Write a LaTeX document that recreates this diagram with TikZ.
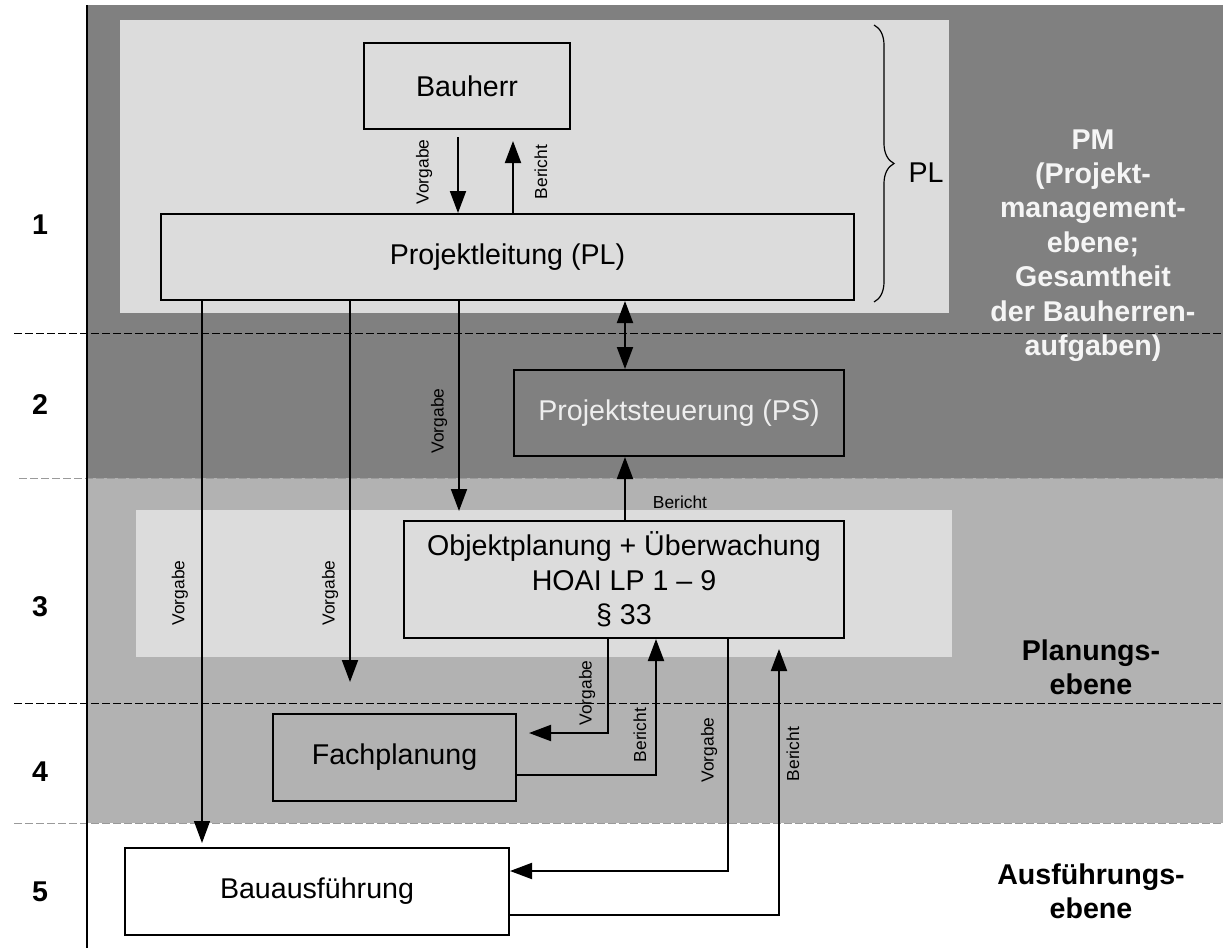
\documentclass[tikz,border=0pt]{standalone}
\usepackage{fontspec}
\setmainfont{Liberation Sans}
\usetikzlibrary{arrows.meta,decorations.pathreplacing}
\definecolor{darkbg}{HTML}{808080}
\definecolor{midbg}{HTML}{B2B2B2}
\definecolor{panelbg}{HTML}{DCDCDC}
\definecolor{dashgray}{HTML}{9A9A9A}
\definecolor{pstext}{HTML}{EEEEEE}
\newcommand{\mainsz}{\fontsize{14.3}{17.2}\selectfont}
\newcommand{\smallsz}{\fontsize{8.7}{10}\selectfont}
\begin{document}
\begin{tikzpicture}[x=0.5pt,y=-0.5pt,
  box/.style={draw=black,line width=1pt,inner sep=0pt,align=center,font=\mainsz},
  arr/.style={line width=1pt,-{Triangle[length=11pt,width=8pt]}},
  dblarr/.style={line width=1pt,{Triangle[length=11pt,width=8pt]}-{Triangle[length=11pt,width=8pt]}},
  lbl/.style={font=\smallsz,inner sep=0pt},
  vlbl/.style={lbl,rotate=90},
  num/.style={font=\mainsz\bfseries,inner sep=0pt},
  blackdash/.style={line width=0.5pt,dash pattern=on 4pt off 1.5pt},
  graydash/.style={line width=0.5pt,draw=dashgray,dash pattern=on 4pt off 1.5pt},
  sidelbl/.style={font=\mainsz\bfseries,align=center,inner sep=0pt}]
\useasboundingbox (0,0) rectangle (1223,948);
% backgrounds
\fill[white] (0,0) rectangle (1223,948);
\fill[darkbg] (87,5) rectangle (1223,478);
\fill[midbg] (87,478) rectangle (1223,823);
\fill[panelbg] (120,20) rectangle (949,313);
\fill[panelbg] (136,510) rectangle (952,657);
% dashed level lines
\draw[blackdash] (14,333) -- (1223,333);
\draw[graydash] (19,478) -- (1223,478);
\draw[blackdash] (14,703) -- (1223,703);
\draw[graydash] (14,823) -- (1223,823);
% left border
\draw[line width=0.7pt] (87,5) -- (87,948);
% level numbers
\node[num] (n1) at (40,225) {1};
\node[num] (n2) at (40,405) {2};
\node[num] (n3) at (40,607) {3};
\node[num] (n4) at (40,772) {4};
\node[num] (n5) at (40,892) {5};
% boxes
\node[box,minimum width=103pt,minimum height=43pt] (Bauherr) at (467,86) {Bauherr};
\node[box,minimum width=346.5pt,minimum height=43pt] (PL) at (507.5,257) {Projektleitung (PL)};
\node[box,minimum width=165pt,minimum height=43pt,text=pstext] (PS) at (679,413) {Projektsteuerung (PS)};
\node[box,minimum width=220pt,minimum height=58.5pt] (Obj) at (624,579.5) {Objektplanung + Überwachung\\HOAI LP 1 – 9\\§ 33};
\node[box,minimum width=121.5pt,minimum height=43.5pt] (Fach) at (394.5,757.5) {Fachplanung};
\node[box,fill=white,minimum width=192pt,minimum height=43.5pt] (Baua) at (317,891.5) {Bauausführung};
% brace
\coordinate (bt) at (874,25);
\coordinate (bb) at (874,302);
\draw[line width=0.6pt,decorate,decoration={brace,amplitude=10pt}] (bt) -- (bb);
\node[font=\mainsz,inner sep=0pt] (plLbl) at (926,173) {PL};
% side labels
\node[sidelbl,text=white!96!black] (pm) at (1093,245.5) {PM\\(Projekt-\\management-\\ebene;\\Gesamtheit\\der Bauherren-\\aufgaben)};
\node[sidelbl] (plan) at (1091,667) {Planungs-\\ebene};
\node[sidelbl] (ausf) at (1091,891) {Ausführungs-\\ebene};
% helper columns / rows
\coordinate (k202) at (202,0);
\coordinate (k350) at (350,0);
\coordinate (k458) at (458,0);
\coordinate (k459) at (459,0);
\coordinate (k513) at (513,0);
\coordinate (k608) at (608,0);
\coordinate (k625) at (625,0);
\coordinate (k656) at (656,0);
\coordinate (k728) at (728,0);
\coordinate (k779) at (779,0);
\coordinate (r733) at (0,733);
\coordinate (r775) at (0,775);
\coordinate (r871) at (0,871);
\coordinate (r915) at (0,915);
\coordinate (e350) at (350,682);
% connectors
\draw[arr,shorten <=3.5pt] (Bauherr.south -| k458) -- (PL.north -| k458);
\draw[arr,shorten >=5.5pt] (PL.north -| k513) -- (Bauherr.south -| k513);
\draw[dblarr] (PL.south -| k625) -- (PS.north -| k625);
\draw[arr,shorten >=4.5pt] (PL.south -| k459) -- (Obj.north -| k459);
\draw[arr] (Obj.north -| k625) -- (PS.south -| k625);
\draw[arr] (PL.south -| k350) -- (e350);
\draw[arr,line width=0.6pt,shorten >=2pt] (PL.south -| k202) -- (Baua.north -| k202);
\draw[arr,shorten >=6pt] (Obj.south -| k608) |- (Fach.east |- r733);
\draw[arr] (Fach.east |- r775) -| (Obj.south -| k656);
\draw[arr] (Obj.south -| k728) |- (Baua.east |- r871);
\draw[arr,shorten >=5pt] (Baua.east |- r915) -| (Obj.south -| k779);
% connector labels
\node[vlbl] (lV1) at (424,172) {Vorgabe};
\node[vlbl] (lB1) at (541,172) {Bericht};
\node[vlbl] (lV2) at (439,421) {Vorgabe};
\node[lbl] (lB2) at (680,502) {Bericht};
\node[vlbl] (lV3) at (330,593) {Vorgabe};
\node[vlbl] (lV4) at (180,593) {Vorgabe};
\node[vlbl] (lV5) at (587,693) {Vorgabe};
\node[vlbl] (lB3) at (640,735) {Bericht};
\node[vlbl] (lV6) at (709,750) {Vorgabe};
\node[vlbl] (lB4) at (793,754) {Bericht};
\end{tikzpicture}
\end{document}
